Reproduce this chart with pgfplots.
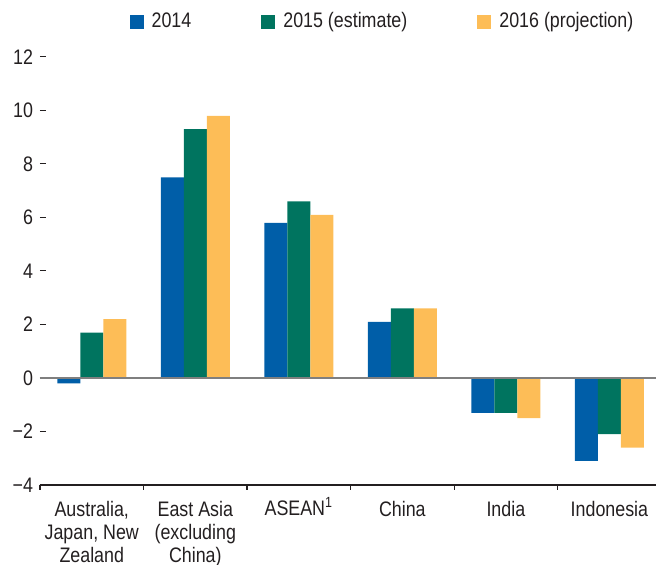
\documentclass[border=0pt]{standalone}
\usepackage{fontspec}
\setmainfont{Liberation Sans}[FakeStretch=0.85]
\usepackage{pgfplots}
\pgfplotsset{compat=1.18}
\definecolor{cblue}{HTML}{005EA8}
\definecolor{cgreen}{HTML}{00745F}
\definecolor{cyellow}{HTML}{FDBD57}
\definecolor{ctext}{HTML}{231F20}
\definecolor{czero}{HTML}{7F7F7F}
\begin{document}
\begin{tikzpicture}
\begin{axis}[
  scale only axis, width=308pt, height=214pt,
  xmin=-0.5, xmax=5.45, ymin=-4, ymax=12,
  axis x line*=bottom, axis y line*=left,
  y axis line style={draw=none},
  x axis line style={-, ctext, line width=0.6pt},
  ytick={-4,-2,0,2,4,6,8,10,12},
  yticklabels={−4,−2,0,2,4,6,8,10,12},
  tick align=inside,
  major tick length=3pt,
  minor tick length=2.5pt,
  ytick style={ctext, line width=0.5pt},
  xtick={0,1,2,3,4,5},
  xticklabels={{Australia,\\Japan, New\\Zealand},{East Asia\\(excluding\\China)},{ASEAN\smash{\textsuperscript{1}}},China,India,Indonesia},
  major x tick style={draw=none},
  minor xtick={-0.5,0.5,1.5,2.5,3.5,4.5},
  minor x tick style={ctext, line width=0.6pt},
  ticklabel style={font=\fontsize{10.5}{11.6}\selectfont, text=ctext},
  x tick label style={align=center, yshift=-1.5pt},
  ybar=0pt, bar width=11.5pt,
  clip=false,
  legend columns=3,
  legend style={draw=none, fill=none, at={(0.5576,1.082)}, anchor=center,
    font=\fontsize{10.5}{11.5}\selectfont, text=ctext,
    /tikz/column 1/.style={column sep=2pt},
    /tikz/column 3/.style={column sep=2pt},
    /tikz/column 5/.style={column sep=2pt},
    /tikz/column 2/.style={column sep=33pt},
    /tikz/column 4/.style={column sep=33pt}},
  legend image code/.code={\fill[#1] (0pt,-3.5pt) rectangle (7pt,3.5pt);},
]
\addplot[fill=cblue, draw=none] coordinates {(0,-0.2) (1,7.5) (2,5.8) (3,2.1) (4,-1.3) (5,-3.1)};
\addplot[fill=cgreen, draw=none] coordinates {(0,1.7) (1,9.3) (2,6.6) (3,2.6) (4,-1.3) (5,-2.1)};
\addplot[fill=cyellow, draw=none] coordinates {(0,2.2) (1,9.8) (2,6.1) (3,2.6) (4,-1.5) (5,-2.6)};
\legend{2014,2015 (estimate),2016 (projection)}
\draw[czero, line width=0.8pt] (axis cs:-0.5,0) -- (axis cs:5.45,0);
\end{axis}
\pgfresetboundingbox
\useasboundingbox ([xshift=-20pt,yshift=-40pt]current axis.south west) rectangle ([yshift=28.5pt]current axis.north east);
\end{tikzpicture}
\end{document}
